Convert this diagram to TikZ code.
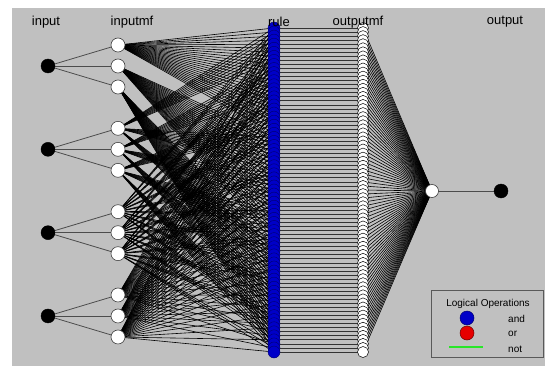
\documentclass[tikz,border=0pt]{standalone}
\usepackage{fontspec}
\setmainfont{Liberation Sans}
\pgfdeclarelayer{bg}
\pgfsetlayers{bg,main}
\definecolor{panel}{RGB}{192,192,192}
\definecolor{ruleblue}{RGB}{0,0,200}
\definecolor{ruleedge}{RGB}{0,0,110}
\definecolor{legred}{RGB}{230,0,0}
\definecolor{leggreen}{RGB}{40,230,40}
\begin{document}
\begin{tikzpicture}[x=1pt,y=-1pt,
  inp/.style={circle,fill=black,draw=black,minimum size=14pt,inner sep=0pt},
  mfnode/.style={circle,fill=white,draw=black!75,line width=0.6pt,minimum size=14pt,inner sep=0pt},
  rulenode/.style={circle,fill=ruleblue,draw=ruleedge,line width=0.4pt,minimum size=12pt,inner sep=0pt},
  omf/.style={circle,fill=white,draw=black,line width=0.5pt,minimum size=11pt,inner sep=0pt},
  lbl/.style={font=\fontsize{13}{15}\selectfont,inner sep=0pt},
  legtxt/.style={font=\fontsize{10}{12}\selectfont,inner sep=0pt},
  inlink/.style={draw=black!70,line width=0.8pt},
  fan/.style={draw=black,line width=0.6pt},
  rrlink/.style={draw=black!80,line width=0.8pt}]
\useasboundingbox (0,0) rectangle (545,366);
% nodes
\foreach \i in {0,...,3}{
  \node[inp] (in\i) at (48,{66+83.33*\i}) {};
  \foreach \j in {0,1,2}{
    \node[mfnode] (mf\i\j) at (118,{66+83.33*\i+21*(\j-1)}) {};
  }
}
\foreach \k in {0,...,80}{
  \node[rulenode] (r\k) at (274,{28+4.05*\k}) {};
}
\foreach \k in {0,...,80}{
  \node[omf] (o\k) at (363,{28+4.05*\k}) {};
}
\node[mfnode,minimum size=13pt] (sum) at (432,191) {};
\node[inp] (out) at (501,191) {};
% background and connectors
\begin{pgfonlayer}{bg}
\fill[white] (0,0) rectangle (545,366);
\fill[panel] (12,8) rectangle (545,366);
\foreach \i in {0,...,3}{
  \foreach \j in {0,1,2}{
    \draw[inlink] (in\i.center) -- (mf\i\j.center);
  }
}
\foreach \k in {0,...,80}{
  \pgfmathtruncatemacro\ia{\k/27}
  \pgfmathtruncatemacro\ib{mod(floor(\k/9),3)}
  \pgfmathtruncatemacro\ic{mod(floor(\k/3),3)}
  \pgfmathtruncatemacro\id{mod(\k,3)}
  \draw[fan] (mf0\ia.center) -- (r\k.center);
  \draw[fan] (mf1\ib.center) -- (r\k.center);
  \draw[fan] (mf2\ic.center) -- (r\k.center);
  \draw[fan] (mf3\id.center) -- (r\k.center);
  \draw[rrlink] (r\k.center) -- (o\k.center);
  \draw[fan] (o\k.center) -- (sum.center);
}
\draw[inlink] (sum.center) -- (out.center);
\end{pgfonlayer}
% labels
\node[lbl] (Linput) at (46,22) {input};
\node[lbl] (Linputmf) at (132,22) {inputmf};
\node[lbl] (Lrule) at (279,22) {rule};
\node[lbl] (Loutputmf) at (358,22) {outputmf};
\node[lbl] (Loutput) at (505,22) {output};
% legend
\draw[draw=black!65,line width=0.6pt] (431,290) rectangle (543,357);
\node[legtxt] (legtitle) at (488,304) {Logical Operations};
\node[circle,fill=ruleblue,draw=ruleedge,line width=0.5pt,minimum size=14pt,inner sep=0pt] (legand) at (467,318) {};
\node[circle,fill=legred,draw=black!60!red,line width=0.5pt,minimum size=14pt,inner sep=0pt] (legor) at (467,333) {};
\coordinate (gA) at (449,347);
\coordinate (gB) at (483,347);
\draw[draw=leggreen,line width=1.2pt] (gA) -- (gB);
\node[legtxt,anchor=west] (tand) at (508,319) {and};
\node[legtxt,anchor=west] (tor) at (508,334) {or};
\node[legtxt,anchor=west] (tnot) at (508,349) {not};
\end{tikzpicture}
\end{document}
